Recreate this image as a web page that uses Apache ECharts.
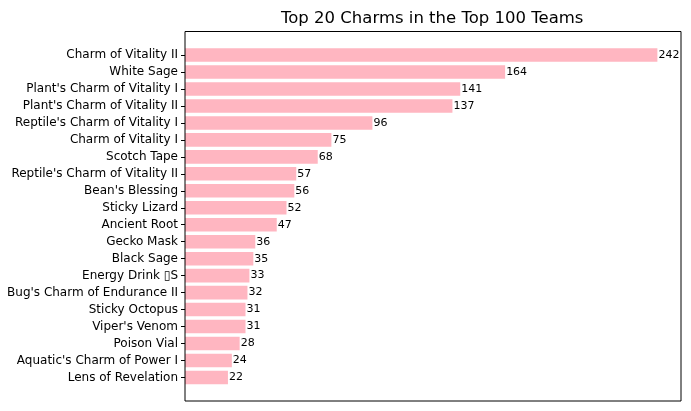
<!DOCTYPE html>
<html><head><meta charset="utf-8">
<script src="https://cdn.jsdelivr.net/npm/echarts@6/dist/echarts.min.js"></script>
<style>html,body{margin:0;padding:0;background:#fff}#c{width:691px;height:411px}</style>
</head><body><div id="c"></div>
<script>
var categories = ["Charm of Vitality II","White Sage","Plant's Charm of Vitality I","Plant's Charm of Vitality II","Reptile's Charm of Vitality I","Charm of Vitality I","Scotch Tape","Reptile's Charm of Vitality II","Bean's Blessing","Sticky Lizard","Ancient Root","Gecko Mask","Black Sage","Energy Drink \u25AFS","Bug's Charm of Endurance II","Sticky Octopus","Viper's Venom","Poison Vial","Aquatic's Charm of Power I","Lens of Revelation"];
var counts = [242,164,141,137,96,75,68,57,56,52,47,36,35,33,32,31,31,28,24,22];
var titleText = "Top 20 Charms in the Top 100 Teams";

var chart = echarts.init(document.getElementById('c'), null, {renderer:'canvas'});
var font = "'DejaVu Sans', sans-serif";
var axL = 185, axR = 681, axT = 31.5, axB = 401;
var nUnits = 21.78, pxPer = (axB - axT) / nUnits, pad = 0.89 * pxPer;
chart.setOption({
  animation:false,
  title:{text:titleText,left:281,top:10,padding:0,textStyle:{fontFamily:font,fontSize:16.5,fontWeight:'normal',color:'#000'}},
  grid:{left:axL,right:691-axR,top:axT+pad,bottom:411-axB+pad,containLabel:false},
  xAxis:{type:'value',min:0,max:254.1,show:false},
  yAxis:{type:'category',data:categories,inverse:true,
    axisLine:{show:false},
    axisTick:{show:true,alignWithLabel:true,length:4,lineStyle:{color:'#000',width:1}},
    axisLabel:{fontFamily:font,fontSize:12,color:'#000',margin:7,padding:[2,0,0,0]},
    splitLine:{show:false}},
  series:[{type:'bar',data:counts,barWidth:'80%',itemStyle:{color:'#FFB6C1'},
    label:{show:true,position:'right',distance:1,fontFamily:font,fontSize:11,color:'#000'}}],
  graphic:[{type:'rect',shape:{x:axL,y:axT,width:axR-axL,height:axB-axT},style:{fill:'none',stroke:'#000',lineWidth:1},z:100}]
});
</script></body></html>
